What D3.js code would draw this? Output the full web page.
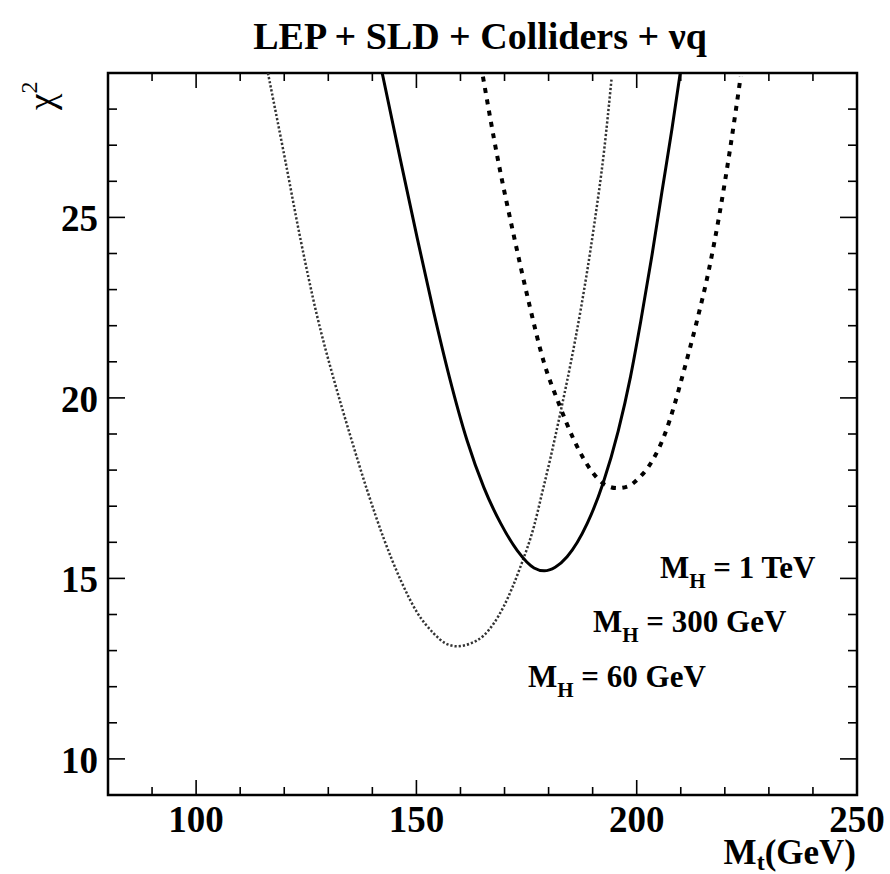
<!DOCTYPE html>
<html>
<head>
<meta charset="utf-8">
<script src="https://cdn.jsdelivr.net/npm/d3@7"></script>
<style>
  html, body { margin: 0; padding: 0; background: #fff; }
  svg { display: block; }
  text { font-family: "Liberation Serif", "Times New Roman", serif; font-weight: bold; fill: #000; }
</style>
</head>
<body>
<svg id="chart" width="890" height="874"></svg>
<script>
// ---- Data ----
const titleText = "LEP + SLD + Colliders + νq";
const xTickLabels = [100, 150, 200, 250];
const yTickLabels = [10, 15, 20, 25];

// M_H = 60 GeV (fine grey dotted)
const mt60  = [116.3, 120.2, 123.6, 127.4, 131.4, 135.0, 138.8, 142.6, 146.4, 150.2, 153.9, 156.6, 159.2, 162.3, 165.3, 169.8, 173.6, 176.7, 178.5, 180.45, 182.7, 185.0, 187.3, 190.3, 192.6, 194.3];
const chi60 = [29.0, 26.6, 24.45, 22.3, 20.45, 18.95, 17.45, 16.1, 14.96, 14.05, 13.48, 13.2, 13.12, 13.2, 13.42, 14.22, 15.32, 16.45, 17.35, 18.35, 19.6, 20.95, 22.45, 24.75, 26.85, 28.85];

// M_H = 300 GeV (solid)
const mt300  = [142.2, 146.4, 150.2, 153.9, 157.5, 161.5, 165.3, 169.1, 172.9, 176.7, 179.0, 181.5, 184.2, 188.8, 192.4, 195.8, 198.6, 200.9, 203.4, 205.7, 208.0, 210.0];
const chi300 = [29.02, 26.58, 24.42, 22.39, 20.57, 18.82, 17.52, 16.53, 15.77, 15.29, 15.21, 15.31, 15.6, 16.53, 17.65, 19.08, 20.59, 22.11, 23.9, 25.69, 27.45, 29.1];

// M_H = 1 TeV (heavy dashed)
const mt1000  = [165.1, 168.5, 172.1, 175.7, 178.9, 182.3, 185.7, 189.9, 192.5, 195.6, 198.0, 200.5, 203.5, 206.4, 208.5, 210.7, 213.5, 216.3, 218.8, 221.2, 223.6];
const chi1000 = [28.9, 26.6, 24.5, 22.55, 21.0, 19.85, 18.85, 17.95, 17.62, 17.5, 17.55, 17.78, 18.25, 19.0, 19.78, 20.75, 22.05, 23.5, 25.1, 26.9, 28.9];

const xDomain = [80, 250];
const yDomain = [9, 29];

// ---- Layout ----
const svg = d3.select("#chart");
const L = 108, R = 857, T = 73, B = 795;

const x = d3.scaleLinear().domain(xDomain).range([L, R]);
const y = d3.scaleLinear().domain(yDomain).range([B, T]);

svg.append("defs").append("clipPath").attr("id", "plotclip")
  .append("rect").attr("x", L).attr("y", T).attr("width", R - L).attr("height", B - T);

// Title
svg.append("text").attr("x", 480).attr("y", 49).attr("text-anchor", "middle")
  .style("font-size", "38px").text(titleText);

// Ticks (inward) on all four sides
const xMinor = d3.range(80, 251, 10);
const yMinor = d3.range(9, 30, 1);
const isXMajor = v => v % 50 === 0;
const isYMajor = v => v % 5 === 0;

const tickG = svg.append("g").attr("stroke", "#000").attr("stroke-width", 1.6);
xMinor.forEach(v => {
  const len = isXMajor(v) ? 15 : 8;
  tickG.append("line").attr("x1", x(v)).attr("x2", x(v)).attr("y1", B).attr("y2", B - len);
  tickG.append("line").attr("x1", x(v)).attr("x2", x(v)).attr("y1", T).attr("y2", T + len);
});
yMinor.forEach(v => {
  const len = isYMajor(v) ? 17 : 9;
  tickG.append("line").attr("y1", y(v)).attr("y2", y(v)).attr("x1", L).attr("x2", L + len);
  tickG.append("line").attr("y1", y(v)).attr("y2", y(v)).attr("x1", R).attr("x2", R - len);
});

// Frame
svg.append("rect").attr("x", L).attr("y", T).attr("width", R - L).attr("height", B - T)
  .attr("fill", "none").attr("stroke", "#000").attr("stroke-width", 2.5);

// Tick labels
svg.append("g").selectAll("text").data(xTickLabels).join("text")
  .attr("x", d => x(d)).attr("y", 832).attr("text-anchor", "middle")
  .style("font-size", "37px").text(d => d);
svg.append("g").selectAll("text").data(yTickLabels).join("text")
  .attr("x", 98).attr("y", d => y(d) + 14).attr("text-anchor", "end")
  .style("font-size", "37px").text(d => d);

// Axis titles
const xt = svg.append("text").attr("x", 856).attr("y", 864).attr("text-anchor", "end")
  .style("font-size", "35px");
xt.append("tspan").text("M");
xt.append("tspan").attr("dy", 6).style("font-size", "24px").text("t");
xt.append("tspan").attr("dy", -6).text("(GeV)");

const yt = svg.append("text").attr("transform", "translate(54,110) rotate(-90)")
  .attr("text-anchor", "start").style("font-size", "37px").style("font-weight", "normal");
yt.append("tspan").text("χ");
yt.append("tspan").attr("dy", -17).style("font-size", "24px").text("2");

// Curves
const line = d3.line().x(d => x(d[0])).y(d => y(d[1])).curve(d3.curveMonotoneX);
const curves = svg.append("g").attr("clip-path", "url(#plotclip)").attr("fill", "none");

curves.append("path").datum(d3.zip(mt60, chi60)).attr("d", line)
  .attr("stroke", "#333").attr("stroke-width", 2.5).attr("stroke-dasharray", "2.2 2");
curves.append("path").datum(d3.zip(mt300, chi300)).attr("d", line)
  .attr("stroke", "#000").attr("stroke-width", 3);
curves.append("path").datum(d3.zip(mt1000, chi1000)).attr("d", line)
  .attr("stroke", "#000").attr("stroke-width", 4).attr("stroke-dasharray", "5 6.5");

// Annotations
function mhLabel(xPos, yPos, rest) {
  const t = svg.append("text").attr("x", xPos).attr("y", yPos).style("font-size", "31px");
  t.append("tspan").text("M");
  t.append("tspan").attr("dy", 10).style("font-size", "21px").text("H");
  t.append("tspan").attr("dy", -10).text(" = " + rest);
}
mhLabel(660, 578, "1 TeV");
mhLabel(593, 632, "300 GeV");
mhLabel(528, 687, "60 GeV");
</script>
</body>
</html>
